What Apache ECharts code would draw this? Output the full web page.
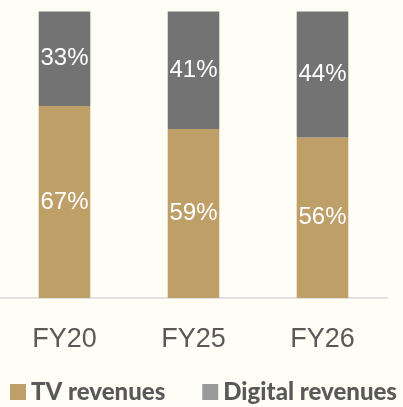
<!DOCTYPE html>
<html><head><meta charset="utf-8">
<script src="https://cdn.jsdelivr.net/npm/echarts@6/dist/echarts.min.js"></script>
<style>html,body{margin:0;padding:0;background:#FFFEF6;}#c{width:403px;height:407px;}</style>
</head><body><div id="c"></div>
<script>
const categories = ['FY20', 'FY25', 'FY26'];
const tvRevenues = [67, 59, 56];
const digitalRevenues = [33, 41, 44];
const seriesNames = ['TV revenues', 'Digital revenues'];

const chart = echarts.init(document.getElementById('c'), null, {renderer: 'canvas'});
const labelStyle = {show: true, position: 'inside', color: '#ffffff', fontFamily: 'Liberation Sans', fontSize: 24, formatter: p => p.value + '%'};
chart.setOption({
  backgroundColor: '#FFFEF6',
  animation: false,
  grid: {left: -2, right: 16, top: 11.5, bottom: 109, containLabel: false},
  legend: {
    top: 375, left: 5, itemWidth: 16, itemHeight: 16, itemGap: 37,
    icon: 'rect',
    textStyle: {fontFamily: 'Lato', fontWeight: 900, fontSize: 24, color: '#595959'},
    data: [
      {name: seriesNames[0], itemStyle: {color: '#BF9F68'}},
      {name: seriesNames[1], itemStyle: {color: '#999999'}}
    ]
  },
  xAxis: {
    type: 'category', data: categories,
    axisLine: {lineStyle: {color: '#D9D9D9', width: 1.5}},
    axisTick: {show: false},
    axisLabel: {fontFamily: 'Liberation Sans', fontSize: 27, color: '#595959', margin: 28}
  },
  yAxis: {type: 'value', min: 0, max: 100, show: false, splitLine: {show: false}},
  series: [
    {name: seriesNames[0], type: 'bar', stack: 's', data: tvRevenues, barWidth: '40%',
     itemStyle: {color: '#BF9F68'}, label: labelStyle},
    {name: seriesNames[1], type: 'bar', stack: 's', data: digitalRevenues, barWidth: '40%',
     itemStyle: {color: '#737373'}, label: labelStyle}
  ]
});
</script></body></html>
